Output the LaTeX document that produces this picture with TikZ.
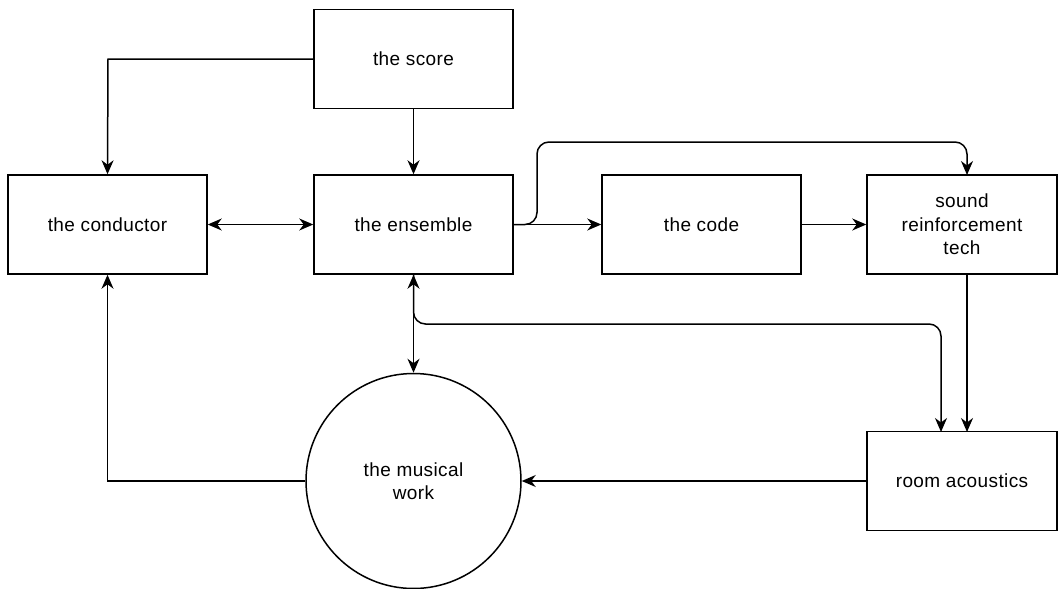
\documentclass[tikz,border=0pt]{standalone}
\usepackage{fontspec}
\setmainfont{Liberation Sans}[LetterSpace=2]
\usetikzlibrary{arrows.meta,calc}
\begin{document}
\begin{tikzpicture}[x=1pt,y=-1pt,
  box/.style={draw,line width=1.5pt,minimum width=199pt,minimum height=99pt,
    inner sep=0pt,align=center,font=\fontsize{19}{23.5}\selectfont},
  wbox/.style={box,minimum width=190pt},
  work/.style={draw,line width=1.5pt,circle,minimum size=215pt,inner sep=0pt,
    align=center,font=\fontsize{19}{23.5}\selectfont},
  tip/.style={Stealth[length=14pt,width=12pt,inset=4.5pt]},
  link/.style={line width=1.5pt,-{Stealth[length=14pt,width=12pt,inset=4.5pt]}},
  both/.style={line width=1.5pt,{Stealth[length=14pt,width=12pt,inset=4.5pt]}-{Stealth[length=14pt,width=12pt,inset=4.5pt]}}]
\useasboundingbox (0,0) rectangle (1058,589);

\node[box] (score) at (413.5,59) {the score};
\node[box] (cond) at (107.5,224.5) {the conductor};
\node[box] (ens) at (413.5,224.5) {the ensemble};
\node[box] (code) at (701.5,224.5) {the code};
\node[wbox] (snd) at (962,224.5) {sound\\reinforcement\\tech};
\node[wbox] (room) at (962,481) {room acoustics};
\node[work] (mw) at (413.5,481) {the musical\\work};

\coordinate (scoreL) at (108,59);
\coordinate (upR) at (537,142);
\coordinate (sndTop) at (967,175);
\coordinate (branch) at (413.5,324);
\coordinate (roomA) at (941,432);
\coordinate (roomB) at (967,432);
\coordinate (sndBot) at (967,274);

% score feeds conductor and ensemble
\draw[link] (score.west) -- (scoreL) -- (cond.north);
\draw[link] (score.south) -- (ens.north);

% conductor and ensemble
\draw[both] (cond.east) -- (ens.east -| ens.west);

% ensemble outputs
\draw[link] (ens.east) -- (code.west);
\draw[link,rounded corners=12pt] (ens.east) -- (ens.east -| upR) -- (upR) -- (upR -| sndTop) -- (sndTop);
\draw[link] (code.east) -- (snd.west);

% ensemble and the musical work
\draw[both] (ens.south) -- (mw.north);
\draw[link,rounded corners=12pt] (ens.south) -- (branch) -- (branch -| roomA) -- (roomA);

% sound reinforcement into the room
\draw[link] (sndBot) -- (roomB);

% room to the work, the work back to the conductor
\draw[link] (room.west) -- (mw.east);
\draw[link] (mw.west) -- (mw.west -| cond.south) -- (cond.south);
\end{tikzpicture}
\end{document}
